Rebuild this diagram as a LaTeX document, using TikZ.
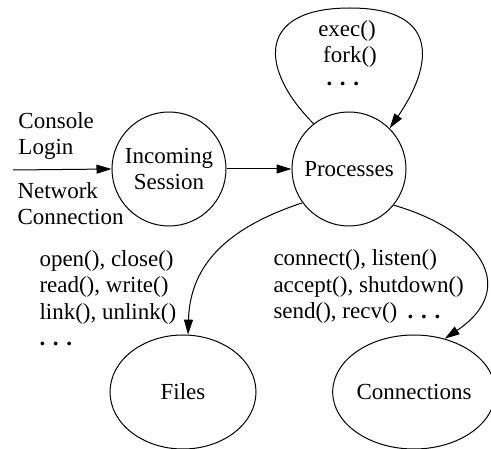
\documentclass[tikz,border=0pt]{standalone}
\usepackage{fontspec}
\setmainfont{Liberation Serif}
\usetikzlibrary{arrows.meta,shapes.geometric}
\begin{document}
\begin{tikzpicture}[x=1pt,y=-1pt,
  font=\fontsize{23}{26.5}\selectfont,
  line width=1pt,
  every node/.style={inner sep=0pt},
  state/.style={draw,circle,minimum size=114pt,align=center},
  oval/.style={draw,ellipse,minimum height=114pt},
  lbl/.style={align=left,anchor=base west},
  dotsb/.style={anchor=base west},
  arr/.style={-{Triangle[length=15pt,width=9pt]}}]
\useasboundingbox (0,0) rectangle (491,449);

\node[state] (inc) at (169,169) {Incoming\\Session};
\node[state] (proc) at (349,169) {Processes};
\node[oval,minimum width=146pt] (files) at (183,392) {Files};
\node[oval,minimum width=152pt] (conn) at (414,392) {Connections};

\coordinate (src) at (13,170);
\draw[arr] (src) -- (inc.west);
\draw[arr] (inc.east) -- (proc.west);

\draw[arr] (proc.128) .. controls (260,70) and (255,8) .. (350,8)
  .. controls (445,8) and (430,70) .. (proc.45);
\draw[arr] (proc.216) .. controls (220,230) and (190,270) .. (files.85);
\draw[arr] (proc.-39) .. controls (480,230) and (520,288) .. (conn.60);

\node[lbl] (login) at (18,155) {Console\\Login};
\node[lbl] (net) at (17,225) {Network\\Connection};

\node[anchor=base] (exec) at (347,37) {exec()};
\node[anchor=base] (fork) at (350,63) {fork()};
\node[dotsb] (pdots) at (326,86) {\textbf{. . .}};

\node[lbl] (fops) at (39,346) {open(), close()\\read(), write()\\link(), unlink()\\\textbf{. . .}};
\node[lbl] (cops) at (273,319) {connect(), listen()\\accept(), shutdown()\\send(), recv()\hspace{0.45em}\textbf{. . .}};
\end{tikzpicture}
\end{document}
